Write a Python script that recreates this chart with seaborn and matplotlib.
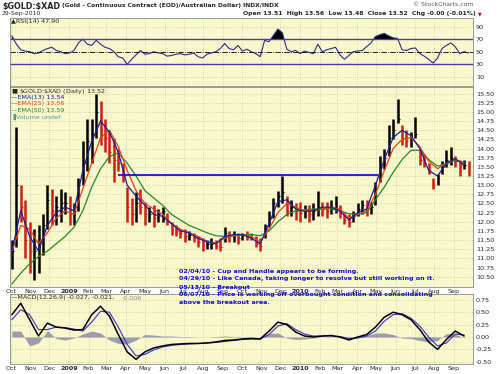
import numpy as np
import pandas as pd
import matplotlib
matplotlib.use('Agg')
import matplotlib.pyplot as plt
import seaborn as sns

sns.set_style('white')
plt.rcParams['font.family'] = ['DejaVu Sans']

# weekly samples
weeks = pd.date_range('2008-10-03', periods=104, freq='7D')
bi_weeks = weeks[::2]

price_high = [11.5, 14.6, 13.0, 12.6, 12.0, 11.8, 11.9, 12.2, 13.0, 12.9,
              12.7, 12.9, 12.8, 12.7, 12.5, 13.2, 14.2, 14.8, 14.8, 15.5,
              15.3, 14.8, 14.5, 14.3, 14.0, 13.6, 12.95, 12.65, 12.8, 12.9,
              12.55, 12.4, 12.45, 12.35, 12.4, 12.25, 12.0, 11.9, 11.8, 11.8,
              11.75, 11.7, 11.6, 11.55, 11.5, 11.55, 11.5, 11.55, 11.85, 11.75,
              11.75, 11.7, 11.7, 11.75, 11.7, 11.6, 11.55, 11.95, 12.3, 12.65,
              12.85, 13.25, 12.7, 12.6, 12.5, 12.55, 12.45, 12.45, 12.5, 12.85,
              12.55, 12.55, 12.6, 12.7, 12.45, 12.25, 12.2, 12.3, 12.5, 12.6,
              12.6, 12.55, 13.1, 13.8, 14.0, 14.65, 14.8, 15.35, 14.65, 14.5,
              14.45, 14.85, 14.0, 13.85, 13.6, 13.2, 13.3, 13.65, 13.95, 14.05,
              13.8, 13.7, 13.7, 13.65]
price_low = [10.7, 11.3, 12.0, 11.0, 10.6, 10.4, 10.6, 11.1, 11.8, 11.9,
             11.9, 12.0, 12.2, 11.9, 11.9, 12.3, 13.0, 13.4, 13.6, 14.3,
             14.1, 13.9, 13.6, 13.1, 13.4, 13.1, 12.0, 11.9, 12.0, 12.2,
             11.9, 12.0, 11.85, 12.0, 12.0, 11.9, 11.65, 11.6, 11.55, 11.45,
             11.5, 11.45, 11.3, 11.2, 11.25, 11.25, 11.25, 11.2, 11.45, 11.45,
             11.45, 11.4, 11.5, 11.5, 11.5, 11.3, 11.2, 11.55, 11.85, 12.1,
             12.4, 12.5, 12.15, 12.15, 12.05, 12.0, 12.1, 12.0, 12.05, 12.15,
             12.15, 12.1, 12.2, 12.25, 12.1, 11.95, 11.85, 12.0, 12.15, 12.2,
             12.15, 12.2, 12.45, 13.1, 13.45, 13.8, 14.25, 14.7, 14.1, 14.05,
             14.05, 14.3, 13.55, 13.5, 13.3, 12.9, 13.0, 13.3, 13.5, 13.55,
             13.5, 13.25, 13.45, 13.25]
price_close = [11.2, 13.0, 12.4, 11.5, 11.2, 11.2, 11.3, 11.9, 12.6, 12.3,
               12.4, 12.5, 12.5, 12.2, 12.3, 13.0, 13.6, 14.2, 14.4, 15.0,
               14.5, 14.3, 13.9, 13.7, 13.6, 13.3, 12.4, 12.2, 12.5, 12.4,
               12.2, 12.2, 12.1, 12.2, 12.3, 12.0, 11.8, 11.75, 11.7, 11.6,
               11.65, 11.55, 11.45, 11.35, 11.4, 11.4, 11.35, 11.3, 11.7, 11.6,
               11.65, 11.55, 11.65, 11.6, 11.55, 11.4, 11.35, 11.8, 12.1, 12.5,
               12.7, 12.8, 12.3, 12.4, 12.3, 12.25, 12.3, 12.2, 12.3, 12.4,
               12.35, 12.3, 12.4, 12.5, 12.25, 12.05, 12.0, 12.15, 12.35, 12.45,
               12.3, 12.4, 12.9, 13.5, 13.75, 14.3, 14.5, 14.8, 14.3, 14.2,
               14.25, 14.4, 13.7, 13.6, 13.4, 13.0, 13.2, 13.5, 13.7, 13.75,
               13.65, 13.55, 13.55, 13.52]

ema13 = [11.2, 12.3, 11.6, 11.2, 11.9, 12.25, 12.4, 12.3, 13.4, 14.2,
         14.75, 14.45, 13.9, 13.0, 12.7, 12.45, 12.2, 12.15, 11.95, 11.75,
         11.7, 11.55, 11.45, 11.4, 11.6, 11.65, 11.65, 11.55, 11.4, 11.95,
         12.55, 12.6, 12.35, 12.28, 12.3, 12.4, 12.4, 12.3, 12.05, 12.25,
         12.35, 13.0, 13.7, 14.3, 14.5, 14.35, 14.0, 13.4, 13.25, 13.6,
         13.72, 13.55]
ema25 = [11.2, 11.9, 11.8, 11.4, 11.7, 12.1, 12.3, 12.2, 12.9, 13.6,
         14.3, 14.5, 14.05, 13.4, 12.85, 12.5, 12.35, 12.2, 11.95, 11.8,
         11.7, 11.6, 11.47, 11.42, 11.55, 11.62, 11.65, 11.6, 11.45, 11.8,
         12.25, 12.5, 12.4, 12.3, 12.3, 12.35, 12.4, 12.35, 12.1, 12.2,
         12.3, 12.75, 13.4, 14.0, 14.25, 14.3, 14.05, 13.65, 13.45, 13.6,
         13.72, 13.58]
ema50 = [10.3, 10.6, 10.85, 11.05, 11.2, 11.4, 11.6, 11.85, 12.3, 12.95,
         13.45, 13.78, 13.88, 13.6, 13.25, 12.85, 12.65, 12.45, 12.2, 12.05,
         11.9, 11.8, 11.7, 11.62, 11.6, 11.62, 11.65, 11.65, 11.62, 11.75,
         12.0, 12.2, 12.3, 12.33, 12.35, 12.35, 12.35, 12.3, 12.22, 12.2,
         12.25, 12.6, 12.95, 13.35, 13.7, 13.95, 13.95, 13.7, 13.52, 13.58,
         13.68, 13.62]

rsi14 = [75, 62, 53, 51, 50, 47, 48, 52, 55, 57,
         52, 50, 47, 48, 52, 64, 70, 62, 60, 68,
         62, 57, 55, 50, 42, 40, 30, 38, 45, 52,
         46, 47, 50, 48, 47, 43, 44, 46, 47, 45,
         46, 48, 42, 40, 46, 48, 50, 55, 63, 55,
         53, 60, 51, 54, 50, 47, 42, 68, 66, 76,
         86, 80, 54, 50, 52, 47, 51, 49, 47, 62,
         50, 53, 55, 57, 45, 38, 44, 50, 51, 52,
         58, 64, 74, 77, 79, 75, 72, 71, 53, 52,
         55, 56, 47, 43, 38, 32, 40, 55, 60, 64,
         58, 47, 50, 48]

macd_line = [0.45, 0.68, 0.35, 0.02, 0.28, 0.2, 0.18, 0.14, 0.15, 0.45,
             0.62, 0.42, 0.05, -0.3, -0.45, -0.3, -0.22, -0.18, -0.15, -0.14,
             -0.13, -0.13, -0.12, -0.1, -0.07, -0.06, -0.04, -0.03, -0.04, 0.12,
             0.3, 0.25, 0.1, 0.02, 0.0, 0.02, 0.03, 0.0, -0.06, 0.0,
             0.05, 0.2, 0.4, 0.5, 0.45, 0.35, 0.15, -0.1, -0.25, -0.05,
             0.12, 0.02]
macd_signal = [0.35, 0.55, 0.45, 0.15, 0.15, 0.2, 0.19, 0.16, 0.12, 0.3,
               0.52, 0.5, 0.2, -0.15, -0.38, -0.35, -0.26, -0.2, -0.17, -0.15,
               -0.14, -0.13, -0.12, -0.11, -0.09, -0.07, -0.05, -0.04, -0.04, 0.05,
               0.22, 0.27, 0.15, 0.06, 0.02, 0.02, 0.02, 0.01, -0.03, -0.02,
               0.02, 0.12, 0.32, 0.45, 0.47, 0.38, 0.22, 0.0, -0.18, -0.12,
               0.06, 0.04]
macd_hist = [0.12, 0.12, -0.18, -0.12, 0.13, -0.03, -0.06, -0.02, 0.06, 0.12,
             0.08, -0.06, -0.13, -0.14, -0.06, 0.05, 0.04, 0.02, 0.02, 0.01,
             0.01, 0.0, 0.0, 0.01, 0.02, 0.01, 0.01, 0.01, 0.0, 0.07,
             0.08, -0.02, -0.05, -0.04, -0.02, 0.0, 0.01, -0.01, -0.03, 0.02,
             0.03, 0.08, 0.08, 0.05, -0.02, -0.03, -0.07, -0.1, -0.07, 0.07,
             0.06, -0.02]

breakout_level = 13.28
breakout_start = pd.Timestamp('2009-03-20')
breakout_end = pd.Timestamp('2010-05-04')

notes = ['02/04/10 - Cup and Handle appears to be forming.',
         '04/29/10 - Like Canada, taking longer to resolve but still working on it.',
         '05/13/10 - Breakout',
         '06/07/10 - Price is working off overbought condition and consolidating',
         'above the breakout area.']

months = pd.date_range('2008-10-01', '2010-09-01', freq='MS')
month_labels = [str(d.year) if d.month == 1 else d.strftime('%b') for d in months]

panel_bg = '#F9F8CC'
grid_col = '#C9C8A2'
fs = 4.6

W, H = 500, 374
fig = plt.figure(figsize=(W / 100, H / 100), dpi=100)
fig.patch.set_facecolor('white')


def box(left, top, right, bottom):
    return [left / W, 1 - bottom / H, (right - left) / W, (bottom - top) / H]


def ftext(x, y, s, **kw):
    fig.text(x / W, 1 - y / H, s, va='center', **kw)


ax_rsi = fig.add_axes(box(10, 18, 473, 86))
ax_px = fig.add_axes(box(10, 87, 473, 287))
ax_macd = fig.add_axes(box(10, 294, 473, 364))

x0, x1 = pd.Timestamp('2008-09-30'), pd.Timestamp('2010-10-01')

# ---- RSI panel
rsi = np.array(rsi14, dtype=float)
sns.lineplot(x=weeks, y=rsi, color='#2B2B8F', linewidth=0.8, ax=ax_rsi)
ax_rsi.fill_between(weeks, rsi, 70, where=rsi > 70, interpolate=True, color='black', lw=0)
ax_rsi.fill_between(weeks, rsi, 30, where=rsi < 30, interpolate=True, color='black', lw=0)
ax_rsi.axhline(70, color='#4B3F9B', lw=1.0)
ax_rsi.axhline(30, color='#4B3F9B', lw=1.0)
ax_rsi.axhline(50, color='black', lw=0.6, ls='-.')
ax_rsi.set_ylim(-4.4, 103.5)
ax_rsi.set_yticks([10, 30, 50, 70, 90])
ax_rsi.set_yticklabels(['10', '30', '50', '70', '90'])

# ---- price panel
prev = [price_close[0]] + price_close[:-1]
bar_cols = ['black' if c >= p else '#D41A12' for c, p in zip(price_close, prev)]
ax_px.vlines(weeks, price_low, price_high, colors=bar_cols, linewidth=1.8)
ax_px.hlines(price_close, weeks, weeks + pd.Timedelta(days=3), colors=bar_cols, linewidth=0.8)
sns.lineplot(x=bi_weeks, y=ema50, color='#228B22', linewidth=0.9, ax=ax_px)
sns.lineplot(x=bi_weeks, y=ema25, color='#E8401A', linewidth=0.9, ax=ax_px)
sns.lineplot(x=bi_weeks, y=ema13, color='#1C1C9C', linewidth=0.9, ax=ax_px)
ax_px.hlines(breakout_level, breakout_start, breakout_end, color='#1515C8', lw=1.3)
ax_px.set_ylim(10.22, 15.68)
pticks = np.arange(10.5, 15.51, 0.25)
ax_px.set_yticks(pticks)
ax_px.set_yticklabels([f'{v:.2f}' for v in pticks])

# ---- MACD panel
hist = np.array(macd_hist, dtype=float)
ax_macd.fill_between(bi_weeks, hist, 0, color='#9C9CAE', lw=0)
sns.lineplot(x=bi_weeks, y=macd_signal, color='#3A30C8', linewidth=0.8, ax=ax_macd)
sns.lineplot(x=bi_weeks, y=macd_line, color='black', linewidth=1.1, ax=ax_macd)
ax_macd.set_ylim(-0.544, 0.867)
mticks = [-0.5, -0.25, 0.0, 0.25, 0.5, 0.75]
ax_macd.set_yticks(mticks)
ax_macd.set_yticklabels([f'{v:.2f}' for v in mticks])

for ax in (ax_rsi, ax_px, ax_macd):
    ax.set_facecolor(panel_bg)
    ax.set_xlim(x0, x1)
    ax.set_xticks(months)
    ax.set_xticklabels(month_labels)
    ax.set_xlabel('')
    ax.set_ylabel('')
    ax.yaxis.tick_right()
    ax.tick_params(length=0, labelsize=fs, pad=2)
    ax.grid(True, color=grid_col, ls=':', lw=0.6)
    ax.set_axisbelow(True)
    for sp in ax.spines.values():
        sp.set_color('#8A8A8A')
        sp.set_linewidth(0.6)
    for lab in ax.get_xticklabels():
        if lab.get_text().isdigit():
            lab.set_fontweight('bold')
ax_rsi.tick_params(axis='x', labelbottom=False)
ax_px.tick_params(axis='x', pad=1.5)
ax_macd.tick_params(axis='x', pad=1.5)

# ---- header texts
ftext(2, 6.5, r'\$GOLD:\$XAD', fontsize=6.4, fontweight='bold', fontstretch='condensed')
ftext(62, 6, '(Gold - Continuous Contract (EOD)/Australian Dollar) INDX/INDX', fontsize=4.3, fontweight='bold')
ftext(2, 14, '29-Sep-2010', fontsize=4.4)
ftext(473, 5, '\u00a9 StockCharts.com', fontsize=4.4, ha='right', color='#555555')
ftext(476, 13.5, 'Open 13.51  High 13.56  Low 13.48  Close 13.52  Chg -0.00 (-0.01%)',
      fontsize=4.4, fontweight='bold', ha='right')
ftext(482, 13.5, '\u25bc', fontsize=3.5, ha='right', color='#C01010')
ftext(11, 21, '\u25b2RSI(14) 47.90', fontsize=fs)

# ---- legend in price panel
ftext(11, 91, r'$\blacksquare$ \$GOLD:\$XAD (Daily) 13.52', fontsize=fs)
ftext(11, 97.5, '\u2014EMA(13) 13.54', fontsize=fs, color='#1C1C9C')
ftext(11, 104, '\u2014EMA(25) 13.56', fontsize=fs, color='#E8401A')
ftext(11, 110.5, '\u2014EMA(50) 13.59', fontsize=fs, color='#228B22')
ftext(11, 117, '\u2590Volume undef', fontsize=fs, color='#4A9A9A')

# ---- notes
for k, line in enumerate(notes):
    ftext(179, 271 + k * 7.8, line, fontsize=4.6, fontweight='bold', color='#1010D0')

ftext(11, 298, '\u2014MACD(12,26,9) -0.027, -0.021,', fontsize=fs)
ftext(122, 298, '-0.006', fontsize=fs, color='#888888')

fig.savefig('out.png', dpi=100, facecolor='white')
